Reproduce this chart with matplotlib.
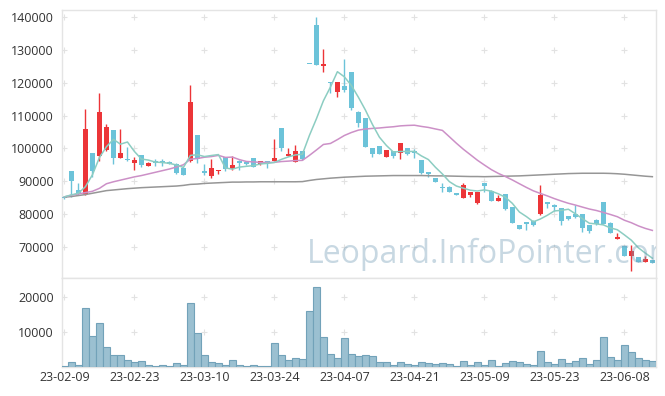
import matplotlib
matplotlib.use("Agg")
import matplotlib.pyplot as plt
import numpy as np

dates = ["23-02-09","23-02-10","23-02-13","23-02-14","23-02-15","23-02-16","23-02-17","23-02-20","23-02-21","23-02-22",
         "23-02-23","23-02-24","23-02-27","23-02-28","23-03-02","23-03-03","23-03-06","23-03-07","23-03-08","23-03-09",
         "23-03-10","23-03-13","23-03-14","23-03-15","23-03-16","23-03-17","23-03-20","23-03-21","23-03-22","23-03-23",
         "23-03-24","23-03-27","23-03-28","23-03-29","23-03-30","23-03-31","23-04-03","23-04-04","23-04-05","23-04-06",
         "23-04-07","23-04-10","23-04-11","23-04-12","23-04-13","23-04-14","23-04-17","23-04-18","23-04-19","23-04-20",
         "23-04-21","23-04-24","23-04-25","23-04-26","23-04-27","23-04-28","23-05-02","23-05-03","23-05-04","23-05-08",
         "23-05-09","23-05-10","23-05-11","23-05-12","23-05-15","23-05-16","23-05-17","23-05-18","23-05-19","23-05-22",
         "23-05-23","23-05-24","23-05-25","23-05-26","23-05-30","23-05-31","23-06-01","23-06-02","23-06-05","23-06-07",
         "23-06-08","23-06-09","23-06-12","23-06-13","23-06-14"]

open_ = [85300,93000,87300,86000,98500,97800,99500,105600,97200,96900,
         95600,98000,94700,96000,96000,95900,95300,93900,96000,104000,
         93200,91700,93000,97300,93800,96100,95900,97000,95100,96000,
         96100,106200,97700,95900,99100,125700,137600,125200,120200,117300,
         119000,123200,111200,109200,100000,100700,97500,99200,98500,100000,
         99200,96400,92800,91000,88100,88300,86400,85000,85800,83200,
         89300,87100,83900,86100,82000,76500,77500,77900,79900,83500,
         82700,81700,79400,79900,80000,76600,78100,83500,77300,72400,
         70200,67100,66700,65400,65900]
high = [85500,93100,89500,112000,98600,116800,107400,105700,106000,100500,
        97300,98100,95900,96800,96700,96000,95400,94000,119300,104100,
        95300,96900,93400,97400,97600,96300,96100,97100,96200,96100,
        103000,106300,100200,101000,99200,125700,140000,130300,120300,120300,
        127300,123300,111500,109300,100100,100800,99600,99300,101600,100100,
        99900,96500,92900,91100,89300,88400,86500,89300,86800,86800,
        89400,87200,85800,86200,82100,76700,77600,78000,88800,83700,
        83000,81800,79500,82700,80100,76700,78300,83600,77400,74100,
        70300,70500,66800,67100,66000]
low = [84500,85300,85800,85800,91400,96000,99300,95100,97000,96200,
       93400,94400,94500,94500,94600,95100,92100,91800,95900,95500,
       92000,91000,92200,93200,93500,93500,95000,94200,95000,94000,
       96000,99300,97600,95700,96500,125700,125300,123200,116800,115600,
       117300,111800,106400,100300,97500,98200,97300,97200,96700,98000,
       97100,92100,91200,89700,86800,86700,85800,84900,85200,83100,
       86600,83900,83800,81300,77200,75300,75100,76300,79800,81800,
       80800,76600,78200,78700,74600,74300,76700,76800,74200,72300,
       67000,62500,65300,65300,65000]
close = [84700,90000,86000,106000,93000,111000,106500,97200,98700,96300,
         96500,95000,95600,95600,95700,95200,92500,91900,114000,96600,
         92500,94100,93300,93600,94800,95600,95300,94400,96100,95700,
         97000,100000,98200,99100,96700,125700,125400,125700,120000,120200,
         117800,112200,107800,100500,98300,98300,99500,97700,101500,98200,
         98500,92600,92100,89800,87900,86800,85900,88800,86700,86700,
         88500,84000,84700,81500,77300,75400,77000,76700,85800,83000,
         82000,77900,78400,78900,75600,74900,76900,76900,74300,72800,
         67100,68700,65400,66100,65100]
volume = [200,1330,570,17040,8850,12760,5620,3330,3330,2000,
          1430,1620,570,290,570,290,1050,570,18470,9900,
          3330,1430,1050,570,2000,570,290,570,290,290,
          6760,3330,2000,2480,2190,16180,23130,8760,3620,2480,
          8470,3620,3050,3330,3050,1330,1330,480,1330,760,
          480,1330,1050,760,1050,760,190,1620,480,1330,
          480,1900,190,1050,1620,1330,760,480,4470,1330,
          760,2190,1050,1620,2480,760,1900,8760,2760,1900,
          6190,4190,2480,1900,1620]
ma5 = [85200,85800,86300,88300,91940,97200,100500,102740,101280,101940,
       99040,96740,96420,95800,95680,95420,94920,94180,97860,98040,
       97500,97820,98100,94020,93660,94280,94520,94740,95240,95420,
       95700,96640,97400,98000,98200,103940,109020,114520,118700,123400,
       121820,119180,115600,111700,107320,103420,100880,98860,99060,99040,
       99080,97700,96580,94240,92180,89840,88500,87840,87220,86980,
       87320,86940,86120,85080,83200,80580,79180,77580,78440,79580,
       80900,81080,81420,80040,78560,77140,76940,76640,75720,75160,
       73600,71960,69660,68020,66480]
ma20 = [85200,85700,86100,86500,86900,87800,89200,89800,90300,90800,
        91300,91700,92200,92700,93200,93700,94300,95000,96700,96900,
        97290,97495,97860,97240,97330,96560,96000,95860,95730,95700,
        95725,95975,96105,96280,96330,97855,99500,101190,101490,102670,
        103935,104840,105565,105910,106085,106220,106430,106595,106865,106990,
        107065,106695,106390,105925,105485,103540,101565,99720,98055,96380,
        94915,93505,92350,91400,90350,89205,88080,87030,86245,85485,
        84660,83925,83240,82695,82080,81485,81035,80440,79820,79135,
        78065,77300,76335,75565,74955]
ma60 = [85100,85300,85600,85900,86300,86700,87100,87300,87500,87700,
        87850,88000,88100,88200,88300,88400,88500,88700,89000,89100,
        89300,89400,89500,89600,89700,89700,89750,89750,89800,89800,
        89800,89800,89800,89800,89850,90200,90500,90700,90900,91050,
        91200,91300,91400,91500,91550,91600,91650,91700,91700,91700,
        91700,91700,91650,91600,91600,91550,91500,91450,91400,91400,
        91350,91400,91450,91500,91550,91600,91700,91800,91900,92000,
        92100,92200,92300,92350,92400,92400,92400,92400,92350,92250,
        92100,91900,91700,91500,91350]

price_ticks = [70000, 80000, 90000, 100000, 110000, 120000, 130000, 140000]
vol_ticks = [10000, 20000]
tick_step = 10

UP = "#ec3538"
DOWN = "#6cc3d9"
GRID = "#e2e2e2"
SPINE = "#e4e4e4"
TXT = "#333333"
FONT = "Open Sans"

plt.rcParams["font.family"] = [FONT, "DejaVu Sans"]

W, H = 665, 396
fig = plt.figure(figsize=(W / 100, H / 100), dpi=100)
L, R = 62 / W, 655.5 / W
ax = fig.add_axes([L, 1 - 278 / H, R - L, (278 - 10) / H])
axv = fig.add_axes([L, 1 - 367 / H, R - L, (367 - 278) / H], sharex=ax)

n = len(close)
x = np.arange(n)
o = np.array(open_); c = np.array(close); h = np.array(high); lo = np.array(low)
up = c > o
colors = np.where(up, UP, DOWN)

# wicks
ax.vlines(x, lo, h, colors=colors, linewidth=1.0, zorder=3)
# bodies
body_bottom = np.minimum(o, c)
body_h = np.maximum(np.abs(c - o), 250)
ax.bar(x, body_h, bottom=body_bottom, width=0.74, color=colors, linewidth=0, zorder=4)

# moving averages
ax.plot(x, ma60, color="#969696", lw=1.1, zorder=5)
ax.plot(x, ma20, color="#cc90c7", lw=1.1, zorder=5)
ax.plot(x, ma5, color="#8ccdc2", lw=1.1, zorder=5)

ax.set_xlim(-0.35, 84.45)
ax.set_ylim(60430, 142230)

# volume
axv.bar(x, volume, width=1.0, color="#9bc0d1", edgecolor="#72a2b9", linewidth=0.8, zorder=3)
axv.set_ylim(0, 25600)

xt = list(range(0, n, tick_step))
for a, yt in ((ax, price_ticks), (axv, vol_ticks)):
    a.set_yticks(yt)
    a.set_yticklabels([str(v) for v in yt])
    a.tick_params(axis="both", length=0, labelsize=9, colors=TXT, pad=6)
    for s in a.spines.values():
        s.set_color(SPINE)
        s.set_linewidth(1.0)
    gx, gy = np.meshgrid(xt, yt)
    a.plot(gx.ravel(), gy.ravel(), ls="none", marker="+", ms=4, mew=0.8, color=GRID, zorder=1)

axv.set_xticks(xt)
axv.set_xticklabels([dates[i] for i in xt])
axv.tick_params(axis="x", pad=3)
plt.setp(ax.get_xticklabels(), visible=False)

# watermark (clipped at the right edge, as in the reference)
ax.text(0.413, 0.055, "Leopard.InfoPointer.com", transform=ax.transAxes, ha="left", va="baseline",
        fontsize=23, color="#6f9ab5", alpha=0.38, zorder=10, clip_on=True, family=[FONT, "DejaVu Sans"])

fig.savefig("out.png", dpi=100, facecolor="white")
